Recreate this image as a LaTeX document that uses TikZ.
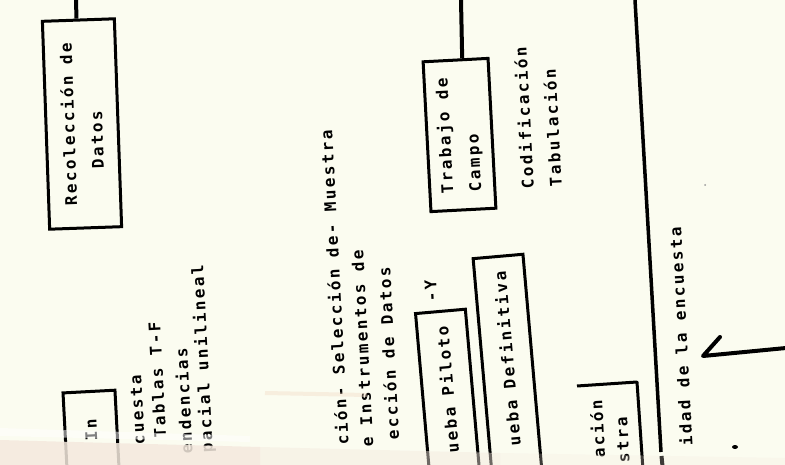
\documentclass[tikz,border=0pt]{standalone}
\usepackage{fontspec}
\newfontfamily\scanfont[LetterSpace=14.8]{DejaVu Sans Mono}
\definecolor{paper}{RGB}{251,252,240}
\definecolor{smear}{RGB}{244,233,222}
\definecolor{peach}{RGB}{240,212,190}
\begin{document}
\begin{tikzpicture}[x=1pt,y=1pt,
  tfont/.style={font=\scanfont\bfseries\fontsize{16}{28}\selectfont},
  box/.style={draw=black, line width=3pt, inner sep=0pt, tfont, align=left},
  txt/.style={inner sep=0pt, tfont, align=left},
  conn/.style={line width=4pt},
  rule/.style={line width=3.5pt}]
\useasboundingbox (0,0) rectangle (785,-465);
\fill[paper] (0,0) rectangle (785,-465);
\begin{scope}
\clip (0,0) rectangle (785,-465);
% boxes
\node[box, rotate=92, minimum width=208pt, minimum height=72pt] (rec) at (82,-124) {Recolección de\\\hspace*{36pt}Datos};
\node[box, rotate=93, minimum width=150pt, minimum height=65pt] (camp) at (459.5,-135) {Trabajo de\\Campo};
\node[box, rotate=95, minimum height=50pt, text width=180pt, inner xsep=15pt, align=right] (pil) at (449.6,-416) {ueba\hspace{12pt}Piloto};
\node[box, rotate=95, minimum height=50pt, text width=210pt, inner xsep=15pt, align=right] (def) at (508.5,-376) {ueba\hspace{12pt}Definitiva};
\node[box, rotate=93, minimum height=52pt, text width=44pt, inner xsep=28pt, align=right] (inv) at (91.6,-441.5) {In};
% partial box
\coordinate (dtl) at (577,-386);
\coordinate (dtr) at (637,-382);
\coordinate (dbr) at (643,-470);
\draw[line width=3pt, line join=round] (dtl) -- (dtr) -- (dbr);
\node[txt, rotate=93, anchor=mid east] (da1) at (600,-400) {ación};
\node[txt, rotate=93, anchor=mid east] (da2) at (625,-417) {stra};
% connectors to top edge
\coordinate (rectop) at (76,0);
\coordinate (camptop) at (461,0);
\draw[conn] (rectop) -- (rec.1);
\draw[conn] (camptop) -- (camp.-5);
% free texts
\node[txt, rotate=93, anchor=west] (cod) at (541.5,-188) {Codificación\\Tabulación};
\node[txt, rotate=93, anchor=mid east] (m1) at (330,-130) {ción- Selección de- Muestra};
\node[txt, rotate=93, anchor=mid east] (m2) at (361,-250) {e Instrumentos de};
\node[txt, rotate=93, anchor=mid east] (m3) at (388,-267) {ección de Datos};
\node[txt, rotate=93, anchor=mid east] (my) at (434,-280) {-Y};
\node[txt, rotate=93, anchor=mid east] (l1) at (139,-375) {cuesta};
\node[txt, rotate=93, anchor=mid east] (l2) at (158,-322) {Tablas T-F};
\node[txt, rotate=93, anchor=mid east] (l3) at (185,-348) {endencias};
\node[txt, rotate=93, anchor=mid east] (l4) at (201,-265) {pacial unilineal};
\node[txt, rotate=93, anchor=mid east] (util) at (679,-227) {idad de la encuesta};
% long rule
\coordinate (vl1) at (635,0);
\coordinate (vl2) at (661,-452);
\coordinate (vl3) at (661.5,-456);
\coordinate (vl4) at (662.5,-466);
\draw[rule] (vl1) -- (vl2);
\draw[conn] (vl3) -- (vl4);
% arrow
\coordinate (arrS) at (786,-348);
\coordinate (arrT) at (703,-356);
\coordinate (barb) at (720,-337);
\draw[conn, line join=round, line cap=round] (arrS) -- (arrT) -- (barb);
% specks and smears
\fill[black] (735,-447) ellipse (3 and 2);
\fill[black!40] (705,-185) circle (1);
\draw[peach, line width=4pt, opacity=0.35] (265,-393) -- (367,-395);
\fill[white, opacity=0.5] (0,-428) -- (250,-436) -- (250,-442) -- (0,-436) -- cycle;
\fill[smear, opacity=0.85] (0,-440) -- (260,-447) -- (260,-465) -- (0,-465) -- cycle;
\fill[smear, opacity=0.45] (260,-447) -- (500,-453) -- (500,-465) -- (260,-465) -- cycle;
\fill[smear, opacity=0.25] (500,-453) -- (785,-458) -- (785,-465) -- (500,-465) -- cycle;
\end{scope}
\end{tikzpicture}
\end{document}
